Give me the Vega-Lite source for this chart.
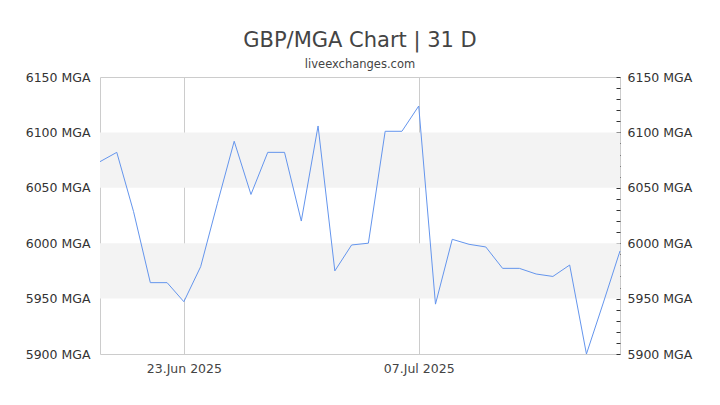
{
  "$schema": "https://vega.github.io/schema/vega-lite/v6.json",
  "width": 520,
  "height": 277,
  "autosize": {"type": "none"},
  "padding": {"left": 100, "top": 77, "right": 100, "bottom": 51},
  "background": "white",
  "title": {
    "text": "GBP/MGA Chart | 31 D",
    "subtitle": "liveexchanges.com",
    "fontSize": 21,
    "fontWeight": "normal",
    "color": "#444444",
    "subtitleFontSize": 11.5,
    "subtitleColor": "#444444",
    "subtitlePadding": 8,
    "font": "DejaVu Sans",
    "subtitleFont": "DejaVu Sans",
    "anchor": "middle",
    "offset": 1
  },
  "config": {
    "view": {"stroke": "#cccccc", "strokeWidth": 1},
    "font": "DejaVu Sans",
    "axis": {"labelFont": "DejaVu Sans", "labelFontSize": 12.5, "labelColor": "#333333", "domain": false}
  },
  "datasets": {
    "bands": [
      {"lo": 5950, "hi": 6000},
      {"lo": 6050, "hi": 6100}
    ],
    "rates": [
      {"date": "2025-06-18", "rate": 6073.6},
      {"date": "2025-06-19", "rate": 6082},
      {"date": "2025-06-20", "rate": 6028.5},
      {"date": "2025-06-21", "rate": 5964.4},
      {"date": "2025-06-22", "rate": 5964.4},
      {"date": "2025-06-23", "rate": 5947.2},
      {"date": "2025-06-24", "rate": 5978.8},
      {"date": "2025-06-25", "rate": 6036},
      {"date": "2025-06-26", "rate": 6092},
      {"date": "2025-06-27", "rate": 6044},
      {"date": "2025-06-28", "rate": 6082},
      {"date": "2025-06-29", "rate": 6082},
      {"date": "2025-06-30", "rate": 6020},
      {"date": "2025-07-01", "rate": 6105.8},
      {"date": "2025-07-02", "rate": 5975},
      {"date": "2025-07-03", "rate": 5998.4},
      {"date": "2025-07-04", "rate": 6000},
      {"date": "2025-07-05", "rate": 6101},
      {"date": "2025-07-06", "rate": 6101},
      {"date": "2025-07-07", "rate": 6123.8},
      {"date": "2025-07-08", "rate": 5945},
      {"date": "2025-07-09", "rate": 6003.5},
      {"date": "2025-07-10", "rate": 5999},
      {"date": "2025-07-11", "rate": 5996.6},
      {"date": "2025-07-12", "rate": 5977.3},
      {"date": "2025-07-13", "rate": 5977.3},
      {"date": "2025-07-14", "rate": 5972.2},
      {"date": "2025-07-15", "rate": 5970},
      {"date": "2025-07-16", "rate": 5980.3},
      {"date": "2025-07-17", "rate": 5900},
      {"date": "2025-07-18", "rate": 5946},
      {"date": "2025-07-19", "rate": 5993}
    ]
  },
  "layer": [
    {
      "data": {"name": "bands"},
      "mark": {"type": "rect", "color": "#f3f3f3"},
      "encoding": {
        "y": {
          "field": "lo",
          "type": "quantitative",
          "scale": {"domain": [5900, 6150], "nice": false, "zero": false},
          "axis": {
            "orient": "right",
            "title": null,
            "grid": false,
            "values": [5900, 5910, 5920, 5930, 5940, 5950, 5960, 5970, 5980, 5990, 6000, 6010, 6020, 6030, 6040, 6050, 6060, 6070, 6080, 6090, 6100, 6110, 6120, 6130, 6140, 6150],
            "labelExpr": "datum.value % 50 === 0 ? datum.value + ' MGA' : ''",
            "labelOverlap": false,
            "ticks": true,
            "tickSize": -4,
            "tickColor": "#333333",
            "labelPadding": 11
          }
        },
        "y2": {"field": "hi"}
      }
    },
    {
      "data": {"name": "rates"},
      "mark": {"type": "line", "color": "#6495ed", "strokeWidth": 1},
      "encoding": {
        "x": {
          "field": "date",
          "type": "temporal",
          "scale": {"type": "utc", "nice": false},
          "axis": {
            "title": null,
            "grid": true,
            "gridColor": "#cccccc",
            "ticks": false,
            "labelPadding": 8,
            "values": [
              {"year": 2025, "month": 6, "date": 23, "utc": true},
              {"year": 2025, "month": 7, "date": 7, "utc": true}
            ],
            "labelExpr": "utcFormat(datum.value, '%d.%b %Y')",
            "labelColor": "#444444"
          }
        },
        "y": {
          "field": "rate",
          "type": "quantitative",
          "axis": {
            "orient": "left",
            "title": null,
            "grid": false,
            "ticks": false,
            "values": [5900, 5950, 6000, 6050, 6100, 6150],
            "labelExpr": "datum.value + ' MGA'",
            "labelPadding": 10
          }
        }
      }
    }
  ],
  "resolve": {"axis": {"y": "independent"}}
}
